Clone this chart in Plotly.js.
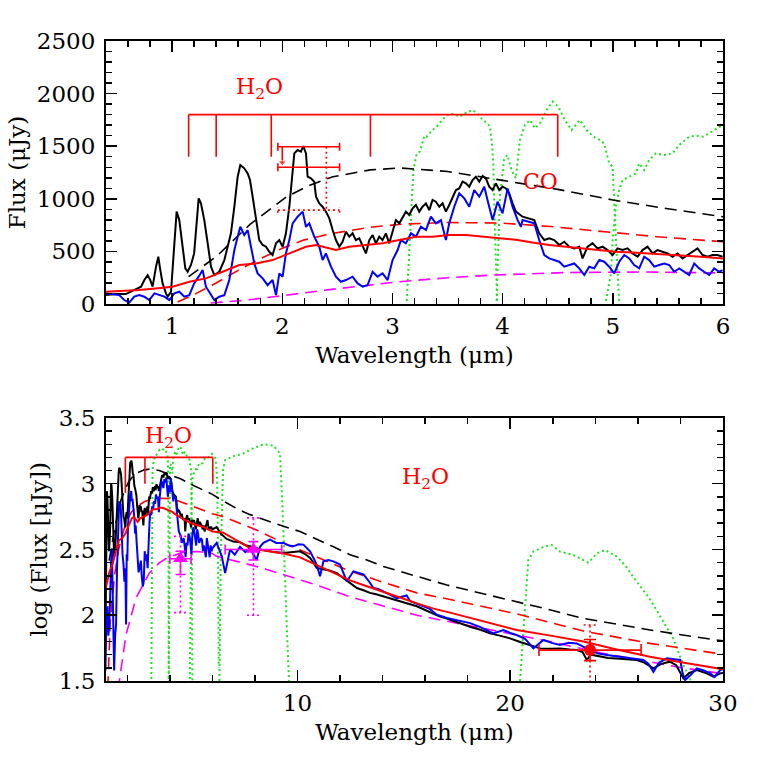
<!DOCTYPE html>
<html>
<head>
<meta charset="utf-8">
<script src="https://cdn.plot.ly/plotly-3.0.1.min.js"></script>
<style>
  body { margin: 0; background: #fff; }
  #chart { width: 763px; height: 763px; }
</style>
</head>
<body>
<div id="chart"></div>
<script>
// ---------- top panel: flux (uJy) vs wavelength (um) ----------
const topBlackWl = [0.40,0.49,0.58,0.627,0.672,0.718,0.748,0.778,0.802,0.823,0.854,0.875,0.893,0.914,0.944,0.96,0.99,1.014,1.041,1.065,1.09,1.12,1.141,1.171,1.20,1.223,1.241,1.262,1.292,1.323,1.353,1.383,1.428,1.474,1.504,1.534,1.565,1.595,1.619,1.655,1.686,1.707,1.731,1.761,1.791,1.822,1.852,1.882,1.912,1.943,1.973,2.003,2.033,2.064,2.088,2.109,2.139,2.17,2.19,2.215,2.23,2.26,2.29,
  2.306,2.336,2.366,2.396,2.427,2.457,2.487,2.517,2.547,2.578,2.608,2.638,2.668,2.699,2.729,2.759,2.79,2.82,2.85,2.88,2.91,2.94,2.971,3.001,3.031,3.062,3.092,3.122,3.152,3.183,3.213,3.243,3.273,3.304,3.334,3.364,3.394,3.425,3.455,3.485,3.515,3.546,3.576,3.606,3.636,3.667,3.697,3.727,3.757,3.788,3.818,3.848,3.878,3.909,3.939,3.969,3.999,4.03,4.06,4.09,4.12,
  4.181,4.242,4.287,4.332,4.378,4.423,4.468,4.514,4.559,4.604,4.65,4.695,4.725,4.771,4.816,4.861,4.907,4.952,4.998,5.043,5.088,5.134,5.179,5.225,5.27,5.315,5.361,5.406,5.451,5.497,5.542,5.588,5.633,5.678,5.724,5.769,5.814,5.86,5.905,5.95,5.996]
const topBlackFlux = [85,95,95,117,139,165,228,275,228,165,355,450,323,196,101,70,117,513,878,798,608,339,307,371,481,830,1004,957,798,577,355,276,307,418,545,672,925,1210,1321,1290,1242,1179,1020,830,608,561,545,497,466,577,608,545,672,925,1242,1432,1464,1448,1502,1432,1210,1194,1163,
  1020,957,925,878,814,703,608,545,592,687,640,672,608,624,545,481,608,656,577,640,608,672,577,687,798,767,830,878,846,909,941,878,925,957,893,989,973,925,957,878,941,1020,1084,1099,1163,1147,1115,1179,1210,1163,1217,1194,1115,1084,1147,1084,1115,1099,1052,957,878,
  830,814,798,672,608,624,608,561,592,545,529,545,434,545,577,529,545,513,466,529,513,529,481,450,513,545,481,513,497,481,450,481,434,466,497,529,466,450,466,466,450]

const topBlueWl = [0.40,0.46,0.52,0.566,0.612,0.657,0.702,0.748,0.793,0.839,0.884,0.93,0.975,1.02,1.065,1.111,1.156,1.20,1.241,1.277,1.307,1.344,1.383,1.428,1.474,1.519,1.565,1.595,1.619,1.655,1.686,1.716,1.746,1.776,1.822,1.867,1.912,1.943,1.973,2.003,2.033,2.064,2.094,2.139,2.185,2.215,2.245,2.29,
  2.306,2.336,2.366,2.396,2.442,2.487,2.532,2.578,2.638,2.684,2.729,2.774,2.82,2.865,2.91,2.956,3.001,3.047,3.077,3.122,3.168,3.213,3.258,3.304,3.349,3.394,3.44,3.485,3.515,3.561,3.606,3.652,3.697,3.742,3.788,3.833,3.878,3.909,3.954,3.999,4.045,4.09,4.136,4.166,
  4.181,4.242,4.287,4.332,4.378,4.423,4.468,4.514,4.559,4.604,4.65,4.695,4.741,4.786,4.831,4.877,4.922,4.967,5.013,5.058,5.104,5.149,5.194,5.24,5.285,5.33,5.376,5.421,5.467,5.512,5.557,5.603,5.648,5.693,5.739,5.784,5.829,5.875,5.92,5.966,5.996]
const topBlueFlux = [101,95,85,38,15,70,85,70,38,101,85,70,38,101,117,70,85,196,260,323,165,101,38,70,85,228,513,640,735,656,703,545,386,291,244,180,228,85,291,260,481,608,767,830,878,735,767,640,
  608,545,418,481,355,260,212,228,260,196,165,180,307,260,291,228,418,513,608,577,672,640,735,703,830,767,798,608,767,925,1052,1004,925,1084,1020,1115,925,798,973,862,1099,925,798,735,
  798,783,767,608,466,434,418,402,355,371,386,339,276,355,339,418,402,355,291,402,466,434,371,339,450,418,355,371,386,371,307,339,307,276,386,339,307,276,339,307,323]

const topModelWl = [0.40,0.55,0.70,0.85,1.005,1.156,1.307,1.459,1.61,1.761,1.912,2.064,2.215,2.306,2.487,2.608,2.759,2.91,3.062,3.213,3.364,3.515,3.667,3.818,3.969,4.12,4.27,4.423,4.575,4.725,4.88,5.028,5.18,5.33,5.48,5.633,5.8,6.0]
const topModelFlux = [117,122,133,148,165,212,244,307,371,386,418,481,545,560,513,545,561,577,608,640,640,656,656,640,624,610,585,561,545,529,513,497,490,481,474,466,450,434]

const topRedBbWl = [1.05,1.2,1.4,1.6,1.8,2.0,2.2,2.46,2.8,3.1,3.5,3.975,4.4,4.88,5.4,6.0]
const topRedBbFlux = [20,90,200,320,430,530,610,672,730,760,775,770,740,690,640,592]

const topBlackBbWl = [1.15,1.4,1.71,2.04,2.25,2.46,2.8,3.07,3.5,3.975,4.5,5.0,5.5,6.0]
const topBlackBbFlux = [260,450,760,1020,1130,1210,1275,1293,1260,1179,1090,989,905,830]

const topMagBbWl = [1.35,1.63,1.94,2.41,3.04,3.5,3.9,4.6,5.3,6.0]
const topMagBbFlux = [10,32,71,135,210,250,275,300,305,295]

// filter transmission curves (scaled)
const filtLWl = [3.13,3.16,3.19,3.22,3.25,3.29,3.31,3.36,3.40,3.46,3.52,3.57,3.61,3.67,3.73,3.78,3.82,3.86,3.885,3.905,3.915,3.93,3.95]
const filtLFlux = [30,600,1274,1430,1450,1600,1590,1650,1685,1760,1812,1800,1780,1820,1844,1800,1749,1720,1685,1500,1337,703,30]
const filtMWl = [3.945,3.975,4.012,4.042,4.081,4.12,4.157,4.202,4.248,4.293,4.339,4.399,4.453,4.505,4.565,4.626,4.701,4.762,4.822,4.883,4.92,4.967,4.998,5.013,5.028,5.043,5.058]
const filtMFlux = [30,1020,1369,1417,1274,1195,1559,1702,1749,1670,1718,1844,1924,1876,1749,1654,1749,1654,1591,1559,1527,1337,1305,925,608,291,30]
const filt3Wl = [4.937,4.983,4.998,5.028,5.058,5.088,5.149,5.21,5.24,5.285,5.33,5.391,5.467,5.542,5.603,5.693,5.76,5.82,5.9,5.97,6.05,6.15,6.22,6.26,6.3]
const filt3Flux = [30,291,608,925,1084,1179,1210,1242,1337,1274,1369,1432,1416,1432,1512,1590,1600,1591,1640,1686,1650,1550,1100,400,40]

// ---------- bottom panel: log flux, extension beyond 6 um ----------
const botBlackWl = [6.2,6.4,6.67,6.99,7.3,7.6,7.93,8.24,8.55,8.9,9.34,9.7,10.12,10.4,10.59,10.75,10.9,11.2,11.5,11.85,12.1,12.32,12.6,12.79,13.1,13.41,13.7,14.04,14.4,14.82,15.2,15.61,16.0,16.39,16.7,17.02,17.5,18.11,18.6,19.05,19.5,19.99,20.5,20.93,21.4,21.9,22.34,22.8,23.13,23.4,23.6,23.8,24.22,24.6,25.0,25.5,25.95,26.3,26.73,27.1,27.5,27.8,28.14,28.4,28.77,29.2,29.55,29.87,30]
const botBlackLog = [2.67,2.62,2.58,2.56,2.555,2.53,2.52,2.50,2.49,2.48,2.473,2.48,2.486,2.46,2.435,2.40,2.36,2.35,2.34,2.32,2.29,2.26,2.23,2.207,2.19,2.17,2.16,2.144,2.125,2.106,2.09,2.068,2.04,2.01,1.99,1.975,1.945,1.913,1.89,1.862,1.845,1.824,1.795,1.774,1.748,1.745,1.748,1.74,1.736,1.72,1.66,1.70,1.685,1.675,1.672,1.665,1.66,1.64,1.596,1.63,1.647,1.62,1.52,1.56,1.584,1.56,1.533,1.558,1.56]

const botBlueWl = [6.2,6.44,6.6,6.83,7.05,7.3,7.55,7.77,8.08,8.24,8.4,8.71,9.0,9.34,9.6,9.81,10.05,10.28,10.59,10.8,10.9,11.06,11.22,11.45,11.69,12.0,12.15,12.32,12.63,12.85,13.1,13.35,13.57,13.8,14.04,14.35,14.67,14.9,15.13,15.3,15.6,15.92,16.2,16.55,17.02,17.6,18.11,18.6,19.2,19.68,20.0,20.3,20.7,21.09,21.3,21.56,21.95,22.34,22.75,23.13,23.45,23.75,24.1,24.54,24.9,25.32,25.8,26.26,26.5,26.73,27.0,27.36,27.7,27.99,28.1,28.22,28.5,28.77,29.1,29.4,29.6,29.87,30]
const botBlueLog = [2.55,2.45,2.32,2.50,2.46,2.52,2.48,2.51,2.42,2.52,2.55,2.575,2.55,2.55,2.53,2.524,2.54,2.537,2.486,2.42,2.385,2.296,2.41,2.42,2.41,2.385,2.33,2.258,2.334,2.32,2.31,2.26,2.207,2.2,2.18,2.16,2.13,2.14,2.15,2.106,2.09,2.068,2.05,2.004,1.979,1.96,1.94,1.91,1.862,1.888,1.865,1.85,1.82,1.748,1.78,1.812,1.79,1.774,1.79,1.786,1.76,1.736,1.71,1.698,1.69,1.685,1.67,1.66,1.63,1.57,1.64,1.672,1.665,1.66,1.56,1.507,1.55,1.596,1.58,1.558,1.53,1.583,1.59]

const botModelWl = [6.49,7.27,7.77,8.5,9.34,10.12,10.9,11.69,12.47,13.26,14.04,14.82,15.61,16.4,17.17,18.7,20.3,21.9,23.44,25.0,26.57,28.1,29.71,30]
const botModelLog = [2.63,2.56,2.51,2.49,2.47,2.44,2.38,2.32,2.265,2.22,2.18,2.135,2.09,2.05,2.02,1.955,1.888,1.845,1.80,1.74,1.685,1.64,1.596,1.59]

const botRedBbWl = [6.49,7.27,8.05,9.34,10.9,12.47,14.04,15.61,17.17,20.3,23.44,26.57,29.71,30]
const botRedBbLog = [2.75,2.70,2.65,2.55,2.44,2.335,2.25,2.17,2.12,2.01,1.88,1.786,1.71,1.705]

const botBlackBbWl = [6.49,7.27,7.77,8.37,9.34,10.12,10.9,11.69,12.47,13.26,14.04,14.82,15.61,17.02,18.6,20.3,21.9,23.44,25.0,26.57,28.1,29.71,30]
const botBlackBbLog = [2.87,2.80,2.765,2.73,2.676,2.636,2.58,2.52,2.46,2.42,2.37,2.335,2.296,2.23,2.17,2.103,2.04,1.976,1.93,1.888,1.85,1.81,1.805]

const botMagBbWl = [6.17,6.96,7.74,8.52,9.34,10.9,12.47,14.04,15.61,17.17,19.52,21.87,24.22,26.57,28.1,30]
const botMagBbLog = [2.45,2.42,2.385,2.35,2.31,2.23,2.14,2.07,2.0,1.95,1.875,1.80,1.715,1.645,1.60,1.555]

const filt4Wl = [6.33,6.4,6.5,6.6,6.99,7.46,7.93,8.4,8.87,9.18,9.3,9.4,9.5,9.6]
const filt4Log = [1.5,2.5,3.1,3.18,3.21,3.23,3.27,3.30,3.29,3.23,2.8,2.3,1.9,1.5]
const filt5Wl = [20.46,20.7,20.85,21.09,21.56,21.95,22.34,22.97,23.67,24.07,24.46,25.01,25.4,25.79,26.58,27.2,27.67,28.14,28.5]
const filt5Log = [1.5,2.116,2.42,2.484,2.52,2.534,2.484,2.458,2.40,2.47,2.496,2.446,2.38,2.29,2.12,1.95,1.82,1.62,1.5]

// photometry
const limWl = [2.24, 2.24]
const limFlux = [1495, 1300]
const limWlErr = [0.28, 0.28]
const limDotFlux = 893
const limDotWl = 2.40
const limArrowWl = 2.0

const magWl = [4.5, 7.93]
const magLog = [2.43, 2.50]
const magWlErr = [0.5, 1.33]
const magLogUp = [0.056, 0.06]
const magLogDown = [0.12, 0.08]
const magDotLow = [2.02, 2.0]
const magDotHigh = [2.6, 2.74]

const redWl = [23.75]
const redLog = [1.735]
const redWlErr = [2.4]
const redLogErr = [0.08]
const redDotLow = [1.45]
const redDotHigh = [1.926]

// band markers
const h2oTopTicks = [1.15, 1.4, 1.9, 2.8, 4.5]
const h2oTopLevels = [1800, 1400]
const h2oBotTicks = [1.91, 2.83, 6.02]
const h2oBotLow = [2.93, 3.0, 3.0]
const h2oBotLevel = 3.20

const FONT = 'DejaVu Serif'
const GREEN = '#22e022'

function log10s(arr) { return arr.map(v => v > 0 ? Math.log10(v) : null) }

function line(x, y, color, width, dash, xa, ya) {
	return {x: x, y: y, type: 'scatter', mode: 'lines', xaxis: xa, yaxis: ya,
		line: {color: color, width: width, dash: dash || 'solid'}, hoverinfo: 'skip'}
}

// dotted vertical extensions with caps
function dotBars(xs, lo, hi, cap) {
	let x = [], y = []
	for (let i = 0; i < xs.length; i++) {
		x.push(xs[i], xs[i], null, xs[i] - cap, xs[i] + cap, null, xs[i] - cap, xs[i] + cap, null)
		y.push(lo[i], hi[i], null, lo[i], lo[i], null, hi[i], hi[i], null)
	}
	return {x: x, y: y}
}

let traces = []

// --- top panel ---
traces.push(line(filtLWl, filtLFlux, GREEN, 2, '2px,3px', 'x', 'y'))
traces.push(line(filtMWl, filtMFlux, GREEN, 2, '2px,3px', 'x', 'y'))
traces.push(line(filt3Wl, filt3Flux, GREEN, 2, '2px,3px', 'x', 'y'))
traces.push(line(topMagBbWl, topMagBbFlux, '#ff00ff', 1.6, '12px,7px', 'x', 'y'))
traces.push(line(topBlackBbWl, topBlackBbFlux, 'black', 1.6, '12px,7px', 'x', 'y'))
traces.push(line(topRedBbWl, topRedBbFlux, '#ff0000', 1.6, '12px,7px', 'x', 'y'))
traces.push(line(topBlackWl, topBlackFlux, 'black', 2, null, 'x', 'y'))
traces.push(line(topBlueWl, topBlueFlux, '#0000ff', 2, null, 'x', 'y'))
traces.push(line(topModelWl, topModelFlux, '#ff0000', 2, null, 'x', 'y'))

// H2O bracket (top)
let bx = [h2oTopTicks[0], h2oTopTicks[h2oTopTicks.length - 1], null]
let by = [h2oTopLevels[0], h2oTopLevels[0], null]
for (let t of h2oTopTicks) { bx.push(t, t, null); by.push(h2oTopLevels[0], h2oTopLevels[1], null) }
traces.push(line(bx, by, '#ff0000', 1.6, null, 'x', 'y'))

// upper limits near 2.2 um
traces.push({x: limWl, y: limFlux, type: 'scatter', mode: 'markers', xaxis: 'x', yaxis: 'y',
	marker: {size: 1, color: 'rgba(0,0,0,0)'}, hoverinfo: 'skip',
	error_x: {type: 'data', array: limWlErr, color: '#ff0000', thickness: 1.6, width: 4}})
let lx0 = limWl[0] - limWlErr[0], lx1 = limWl[0] + limWlErr[0]
traces.push(line([lx0, lx1, null, limDotWl, limDotWl, null, lx0, lx0, null, lx1, lx1],
	[limDotFlux, limDotFlux, null, limFlux[0], limDotFlux, null, limDotFlux - 25, limDotFlux + 25, null, limDotFlux - 25, limDotFlux + 25],
	'#ff0000', 1.6, '2px,3px', 'x', 'y'))
// arrow from the upper bar down to the lower one
traces.push({x: [limArrowWl, limArrowWl], y: [limFlux[0], limFlux[1] + 45], type: 'scatter', mode: 'lines+markers',
	xaxis: 'x', yaxis: 'y', hoverinfo: 'skip', line: {color: '#ff0000', width: 1.6},
	marker: {symbol: 'triangle-down', size: [0, 7], color: '#ff0000'}})

// --- bottom panel ---
const G = [[filtLWl, filtLFlux], [filtMWl, filtMFlux], [filt3Wl, filt3Flux]]
for (let f of G) traces.push(line(f[0], log10s(f[1]), GREEN, 2, '2px,3px', 'x2', 'y2'))
traces.push(line(filt4Wl, filt4Log, GREEN, 2, '2px,3px', 'x2', 'y2'))
traces.push(line(filt5Wl, filt5Log, GREEN, 2, '2px,3px', 'x2', 'y2'))

traces.push(line(topMagBbWl.concat(botMagBbWl), log10s(topMagBbFlux).concat(botMagBbLog), '#ff00ff', 1.6, '12px,7px', 'x2', 'y2'))
traces.push(line(topBlackBbWl.concat(botBlackBbWl), log10s(topBlackBbFlux).concat(botBlackBbLog), 'black', 1.6, '12px,7px', 'x2', 'y2'))
traces.push(line(topRedBbWl.concat(botRedBbWl), log10s(topRedBbFlux).concat(botRedBbLog), '#ff0000', 1.6, '12px,7px', 'x2', 'y2'))
traces.push(line(topBlackWl.concat(botBlackWl), log10s(topBlackFlux).concat(botBlackLog), 'black', 2, null, 'x2', 'y2'))
traces.push(line(topBlueWl.concat(botBlueWl), log10s(topBlueFlux).concat(botBlueLog), '#0000ff', 2, null, 'x2', 'y2'))
traces.push(line(topModelWl.concat(botModelWl), log10s(topModelFlux).concat(botModelLog), '#ff0000', 2, null, 'x2', 'y2'))

// H2O bracket (bottom)
let cx = [h2oBotTicks[0], h2oBotTicks[h2oBotTicks.length - 1], null]
let cy = [h2oBotLevel, h2oBotLevel, null]
h2oBotTicks.forEach((t, i) => { cx.push(t, t, null); cy.push(h2oBotLevel, h2oBotLow[i], null) })
traces.push(line(cx, cy, '#ff0000', 1.6, null, 'x2', 'y2'))

// magenta photometry
let md = dotBars(magWl, magDotLow, magDotHigh, 0.3)
traces.push(line(md.x, md.y, '#ff00ff', 1.6, '2px,3px', 'x2', 'y2'))
traces.push({x: magWl, y: magLog, type: 'scatter', mode: 'markers', xaxis: 'x2', yaxis: 'y2',
	marker: {symbol: 'triangle-up', size: 13, color: '#ff00ff'}, hoverinfo: 'skip',
	error_x: {type: 'data', array: magWlErr, color: '#ff00ff', thickness: 1.6, width: 5},
	error_y: {type: 'data', symmetric: false, array: magLogUp, arrayminus: magLogDown, color: '#ff00ff', thickness: 1.6, width: 5}})

// red photometry
let rd = dotBars(redWl, redDotLow, redDotHigh, 0.3)
traces.push(line(rd.x, rd.y, '#ff0000', 1.6, '2px,3px', 'x2', 'y2'))
traces.push({x: redWl, y: redLog, type: 'scatter', mode: 'markers', xaxis: 'x2', yaxis: 'y2',
	marker: {symbol: 'circle', size: 12, color: '#ff0000'}, hoverinfo: 'skip',
	error_x: {type: 'data', array: redWlErr, color: '#ff0000', thickness: 1.6, width: 6},
	error_y: {type: 'data', array: redLogErr, color: '#ff0000', thickness: 1.6, width: 6}})

const tickFont = {family: FONT, size: 23, color: 'black'}
const titleFont = {family: FONT, size: 23, color: 'black'}

function axis(extra) {
	return Object.assign({
		showline: true, linecolor: 'black', linewidth: 2, mirror: 'allticks',
		ticks: 'inside', ticklen: 11, tickwidth: 1.5, tickcolor: 'black',
		showgrid: false, zeroline: false, tickfont: tickFont
	}, extra)
}

const redText = (x, y, text, xr, yr) => ({x: x, y: y, xref: xr, yref: yr, text: text, showarrow: false,
	font: {family: FONT, size: 22, color: '#ff0000'}})

const layout = {
	width: 763, height: 763,
	margin: {l: 106, r: 40, t: 41, b: 82},
	paper_bgcolor: 'white', plot_bgcolor: 'white',
	showlegend: false,
	xaxis: axis({domain: [0, 1], anchor: 'y', range: [0.4, 6], dtick: 1, tick0: 0,
		minor: {dtick: 0.2, tick0: 0, ticks: 'inside', ticklen: 6, tickwidth: 1.5, tickcolor: 'black'},
		title: {text: 'Wavelength (μm)', font: titleFont, standoff: 9}}),
	yaxis: axis({domain: [0.589, 1], anchor: 'x', range: [0, 2500], dtick: 500, ticklabelstandoff: 4,
		minor: {dtick: 100, ticks: 'inside', ticklen: 6, tickwidth: 1.5, tickcolor: 'black'},
		title: {text: 'Flux (μJy)', font: titleFont, standoff: 5}}),
	xaxis2: axis({domain: [0, 1], anchor: 'y2', range: [1, 30], dtick: 10, tick0: 0,
		minor: {dtick: 2, tick0: 0, ticks: 'inside', ticklen: 6, tickwidth: 1.5, tickcolor: 'black'},
		title: {text: 'Wavelength (μm)', font: titleFont, standoff: 9}}),
	yaxis2: axis({domain: [0, 0.411], anchor: 'x2', range: [1.5, 3.5], dtick: 0.5, ticklabelstandoff: 4,
		minor: {dtick: 0.1, ticks: 'inside', ticklen: 6, tickwidth: 1.5, tickcolor: 'black'},
		title: {text: 'log (Flux [μJy])', font: titleFont, standoff: 5}}),
	annotations: [
		redText(1.79, 2053, 'H<sub>2</sub>O', 'x', 'y'),
		redText(4.34, 1169, 'CO', 'x', 'y'),
		redText(3.96, 3.355, 'H<sub>2</sub>O', 'x2', 'y2'),
		redText(16.0, 3.04, 'H<sub>2</sub>O', 'x2', 'y2')
	]
}

Plotly.newPlot('chart', traces, layout, {staticPlot: true, displayModeBar: false})
</script>
</body>
</html>
